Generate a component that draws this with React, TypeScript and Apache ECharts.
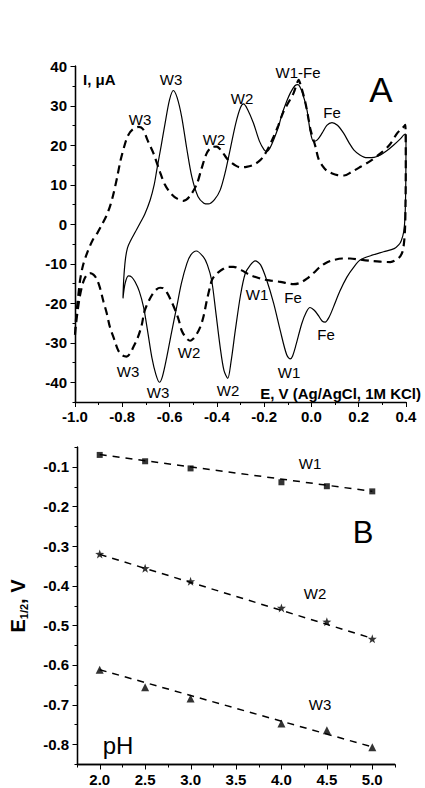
import React, { useEffect, useRef } from "react";
import * as echarts from "echarts";

// Panel A: cyclic voltammograms (E in V, I in µA), points in sweep order
const solidE = [
  -0.797, -0.794, -0.787, -0.778, -0.765, -0.745, -0.725, -0.705, -0.682, -0.665, -0.654, -0.635, -0.619, -0.600, -0.584,
  -0.568, -0.549, -0.527, -0.506, -0.480, -0.455, -0.436, -0.410, -0.386, -0.365, -0.344, -0.320, -0.300, -0.287, -0.270,
  -0.245, -0.220, -0.200, -0.189, -0.175, -0.160, -0.140, -0.125, -0.105, -0.089, -0.070, -0.057, -0.040, -0.019, -0.005,
  0.009, 0.025, 0.045, 0.065, 0.087, 0.110, 0.136, 0.160, 0.179, 0.205, 0.235, 0.265, 0.292, 0.320, 0.348, 0.375, 0.397,
  0.400, 0.399, 0.396, 0.390, 0.380, 0.370, 0.350, 0.305, 0.250, 0.206, 0.180, 0.150, 0.120, 0.093, 0.075, 0.058, 0.045,
  0.029, 0.012, -0.006, -0.022, -0.041, -0.065, -0.080, -0.090, -0.105, -0.132, -0.160, -0.189, -0.215, -0.238, -0.260,
  -0.280, -0.300, -0.322, -0.340, -0.354, -0.370, -0.386, -0.405, -0.422, -0.440, -0.457, -0.487, -0.510, -0.527, -0.550,
  -0.570, -0.592, -0.612, -0.630, -0.643, -0.658, -0.675, -0.693, -0.710, -0.728, -0.746, -0.760, -0.774, -0.788, -0.797,
];
const solidI = [
  -18.5, -14.0, -9.0, -6.0, -4.2, -2.0, 0.2, 2.5, 6.1, 10.0, 13.7, 20.0, 25.5, 31.5, 33.8,
  32.0, 27.2, 19.0, 12.0, 7.0, 5.3, 5.1, 6.2, 8.6, 13.0, 18.8, 25.5, 29.5, 30.4, 29.0,
  25.5, 21.0, 18.8, 18.4, 19.3, 21.3, 24.5, 27.7, 31.0, 33.2, 35.0, 35.3, 33.5, 28.9, 23.5,
  20.9, 21.3, 23.0, 25.0, 25.7, 25.0, 23.0, 20.5, 18.8, 17.5, 16.8, 16.9, 17.5, 18.6, 20.0, 21.5, 22.8,
  22.0, 10.0, 2.0, -2.0, -4.2, -5.2, -6.2, -7.0, -8.0, -9.1, -10.8, -13.4, -17.0, -21.0, -23.5, -24.8, -24.5,
  -23.1, -21.8, -21.1, -22.3, -25.2, -30.5, -33.4, -34.1, -33.0, -26.9, -20.0, -14.2, -10.3, -9.3, -10.5,
  -12.5, -18.0, -26.9, -34.8, -39.0, -37.0, -31.1, -22.0, -14.2, -10.3, -8.3, -6.8, -7.8, -10.0, -15.0,
  -21.0, -27.5, -33.7, -38.5, -40.0, -38.0, -33.7, -27.0, -21.0, -17.0, -14.6, -13.4, -13.1, -15.0, -18.8,
];
const dashE = [
  -1.000, -0.997, -0.993, -0.986, -0.978, -0.966, -0.947, -0.925, -0.905, -0.885, -0.868, -0.852, -0.838, -0.823, -0.807,
  -0.790, -0.775, -0.755, -0.730, -0.712, -0.695, -0.680, -0.668, -0.640, -0.620, -0.598, -0.570, -0.541, -0.515, -0.485,
  -0.465, -0.443, -0.420, -0.401, -0.380, -0.360, -0.344, -0.320, -0.302, -0.275, -0.245, -0.220, -0.203, -0.180, -0.160,
  -0.140, -0.118, -0.095, -0.075, -0.062, -0.054, -0.045, -0.035, -0.025, -0.012, -0.004, 0.017, 0.030, 0.046, 0.065,
  0.088, 0.110, 0.138, 0.170, 0.208, 0.250, 0.292, 0.330, 0.363, 0.385, 0.397,
  0.399, 0.398, 0.396, 0.392, 0.385, 0.370, 0.334, 0.290, 0.250, 0.207, 0.164, 0.130, 0.093, 0.065, 0.037, 0.010, -0.019,
  -0.050, -0.076, -0.100, -0.132, -0.170, -0.203, -0.230, -0.259, -0.295, -0.330, -0.352, -0.372, -0.390, -0.407, -0.420,
  -0.429, -0.443, -0.457, -0.470, -0.485, -0.500, -0.513, -0.530, -0.549, -0.560, -0.570, -0.591, -0.612, -0.628, -0.640,
  -0.655, -0.675, -0.697, -0.708, -0.718, -0.735, -0.753, -0.768, -0.782, -0.800, -0.817, -0.835, -0.852, -0.866, -0.880,
  -0.895, -0.909, -0.922, -0.937, -0.952, -0.965, -0.980, -0.990, -0.996, -1.000,
];
const dashI = [
  -28.0, -25.0, -22.0, -18.0, -14.0, -10.4, -7.0, -4.0, -2.2, 0.0, 2.0, 4.5, 7.5, 11.5, 16.2,
  20.0, 22.5, 24.0, 24.6, 24.0, 21.5, 19.5, 17.9, 13.1, 10.0, 8.0, 6.5, 5.9, 7.0, 10.1,
  14.0, 17.9, 19.5, 19.6, 18.5, 16.8, 15.8, 14.8, 14.4, 14.5, 15.0, 16.0, 17.1, 19.5, 22.1,
  25.0, 28.5, 31.0, 33.2, 35.5, 36.5, 35.0, 33.0, 30.6, 26.5, 23.9, 19.6, 16.5, 14.8, 13.5,
  12.8, 12.4, 12.3, 13.2, 14.5, 16.0, 17.9, 20.0, 23.0, 24.3, 25.1,
  15.0, 5.0, -1.0, -4.5, -7.0, -8.5, -9.6, -9.5, -9.3, -9.0, -8.7, -8.7, -9.1, -9.7, -10.8, -12.3, -13.8,
  -14.9, -15.2, -15.0, -14.6, -14.3, -14.0, -13.5, -12.9, -11.7, -10.8, -10.8, -11.3, -12.0, -12.9, -14.0,
  -15.9, -19.5, -23.5, -26.0, -27.8, -29.0, -29.5, -28.8, -26.9, -24.5, -22.7, -19.7, -17.2, -16.2, -16.1,
  -16.5, -18.0, -20.6, -22.5, -25.6, -28.8, -31.1, -32.8, -33.5, -33.2, -32.0, -29.0, -26.1, -22.5, -19.5,
  -16.0, -13.8, -12.8, -12.4, -13.0, -14.6, -18.4, -22.5, -25.5, -28.0,
];

// Panel B: E1/2 vs pH
const pH = [2.0, 2.5, 3.0, 4.0, 4.5, 5.0];
const w1 = [-0.070, -0.086, -0.104, -0.139, -0.149, -0.162];
const w2 = [-0.320, -0.356, -0.389, -0.456, -0.491, -0.534];
const w3 = [-0.612, -0.656, -0.685, -0.748, -0.765, -0.808];
const fitPH = [2.0, 5.0];
const w1Fit = [-0.069, -0.162];
const w2Fit = [-0.321, -0.533];
const w3Fit = [-0.612, -0.807];

// Axis ranges and tick values
const rangeAx = [-1.0, 0.4];
const rangeAy = [-45, 40];
const rangeBx = [1.75, 5.25];
const rangeBy = [-0.85, -0.05];
const yMajorA = [-40, -30, -20, -10, 0, 10, 20, 30, 40];
const yMinorA = [-45, -35, -25, -15, -5, 5, 15, 25, 35];
const yMajorB = [-0.8, -0.7, -0.6, -0.5, -0.4, -0.3, -0.2, -0.1];
const yMinorB = [-0.85, -0.75, -0.65, -0.55, -0.45, -0.35, -0.25, -0.15, -0.05];
const xMajorB = [2.0, 2.5, 3.0, 3.5, 4.0, 4.5, 5.0];
const xMinorB = [1.75, 2.25, 2.75, 3.25, 3.75, 4.25, 4.75, 5.25];

const FONT = "'Liberation Sans', Arial, Helvetica, sans-serif";

// Plot-area layout (pixels)
const GA = { left: 75, top: 66, width: 331, height: 336 };
const GB = { left: 77, top: 447, width: 318, height: 317 };

type Ann = { t: string; x: number; y: number; s: number; w?: string; a?: string };
const annotations: Ann[] = [
  { t: "I, \u03BCA", x: 83, y: 79, s: 15, w: "bold", a: "left" },
  { t: "A", x: 381, y: 89, s: 35 },
  { t: "W3", x: 171, y: 79, s: 15 },
  { t: "W3", x: 140, y: 119, s: 15 },
  { t: "W2", x: 242, y: 98, s: 15 },
  { t: "W2", x: 214, y: 139, s: 15 },
  { t: "W1-Fe", x: 298, y: 72, s: 15 },
  { t: "Fe", x: 332, y: 112, s: 15 },
  { t: "W1", x: 257, y: 294, s: 15 },
  { t: "Fe", x: 293, y: 297, s: 15 },
  { t: "Fe", x: 326, y: 334, s: 15 },
  { t: "W1", x: 289, y: 372, s: 15 },
  { t: "W3", x: 128, y: 371, s: 15 },
  { t: "W3", x: 158, y: 392, s: 15 },
  { t: "W2", x: 189, y: 352, s: 15 },
  { t: "W2", x: 228, y: 390, s: 15 },
  { t: "E, V (Ag/AgCl, 1M KCl)", x: 421, y: 393, s: 15, w: "bold", a: "right" },
  { t: "W1", x: 310, y: 463, s: 15 },
  { t: "B", x: 363, y: 532, s: 31 },
  { t: "W2", x: 315, y: 593, s: 15 },
  { t: "W3", x: 320, y: 704, s: 15 },
  { t: "pH", x: 118, y: 745, s: 24 },
];

const STAR =
  "path://M0,-10 L2.35,-3.24 L9.51,-3.09 L3.8,1.24 L5.88,8.09 L0,4 L-5.88,8.09 L-3.8,1.24 L-9.51,-3.09 L-2.35,-3.24 Z";

const zip = (a: number[], b: number[]) => a.map((v, i) => [v, b[i]]);
const onStep = (v: number, step: number) => Math.abs(v / step - Math.round(v / step)) < 1e-6;

const black = "#000000";
const labelStyle = { color: black, fontWeight: "bold" as const, fontSize: 15, fontFamily: FONT };

type G = { left: number; top: number; width: number; height: number };
const seg = (x1: number, y1: number, x2: number, y2: number, w: number) => ({
  type: "line",
  z: 50,
  silent: true,
  shape: { x1, y1, x2, y2 },
  style: { stroke: black, lineWidth: w },
});
const crisp = (v: number) => Math.round(v) + 0.5;
const yPix = (g: G, r: number[], v: number) => g.top + ((r[1] - v) / (r[1] - r[0])) * g.height;
const xPix = (g: G, r: number[], v: number) => g.left + ((v - r[0]) / (r[1] - r[0])) * g.width;

function yAxisShapes(g: G, r: number[], majors: number[], minors: number[]) {
  const X = crisp(g.left);
  const out: any[] = [seg(X, g.top, X, g.top + g.height + 0.5, 1.3)];
  majors.forEach((v) => { const Y = crisp(yPix(g, r, v)); out.push(seg(X - 5, Y, X, Y, 1)); });
  minors.forEach((v) => { const Y = crisp(yPix(g, r, v)); out.push(seg(X - 3, Y, X, Y, 1)); });
  return out;
}
function xAxisShapes(g: G, r: number[], majors: number[], minors: number[]) {
  const Y = crisp(g.top + g.height);
  const out: any[] = [seg(g.left, Y, g.left + g.width, Y, 1.3)];
  majors.forEach((v) => { const X = crisp(xPix(g, r, v)); out.push(seg(X, Y, X, Y + 5, 1)); });
  minors.forEach((v) => { const X = crisp(xPix(g, r, v)); out.push(seg(X, Y, X, Y + 3, 1)); });
  return out;
}

export default function App() {
  const ref = useRef<HTMLDivElement>(null);
  useEffect(() => {
    if (!ref.current) return;
    const chart = echarts.init(ref.current, undefined, { renderer: "svg" });

    const textGraphic: any[] = [
      ...annotations.map((a) => ({
        type: "text",
        x: a.x,
        y: a.y,
        z: 10,
        style: {
          text: a.t,
          fill: black,
          font: `${a.w || "normal"} ${a.s}px ${FONT}`,
          textAlign: a.a || "center",
          textVerticalAlign: "middle",
        },
      })),
      {
        type: "text",
        x: 18,
        y: 606,
        rotation: Math.PI / 2,
        z: 10,
        style: {
          text: "{b|E}{s|1/2}{b|, V}",
          fill: black,
          textAlign: "center",
          textVerticalAlign: "middle",
          rich: {
            b: { fontSize: 20, fontWeight: "bold", fontFamily: FONT, lineHeight: 22, verticalAlign: "middle" },
            s: { fontSize: 11, fontWeight: "bold", fontFamily: FONT, lineHeight: 22, verticalAlign: "bottom", padding: [7, 0, 0, 0] },
          },
        },
      },
    ];

    const axisGraphic: any[] = [
      ...yAxisShapes(GA, rangeAy, yMajorA, yMinorA),
      ...yAxisShapes(GB, rangeBy, yMajorB, yMinorB),
      ...xAxisShapes(GB, rangeBx, xMajorB, xMinorB),
    ];

    const valueAxisLine = { show: true, onZero: false, lineStyle: { color: black, width: 1.3 } };

    const option: any = {
      animation: false,
      backgroundColor: "#fff",
      grid: [GA, GB],
      xAxis: [
        {
          gridIndex: 0, type: "value", min: rangeAx[0], max: rangeAx[1], interval: 0.2,
          axisLine: valueAxisLine,
          axisTick: { show: true, length: 5, lineStyle: { color: black, width: 1 } },
          minorTick: { show: true, splitNumber: 2, length: 3, lineStyle: { color: black, width: 1 } },
          splitLine: { show: false },
          axisLabel: { ...labelStyle, margin: 7, formatter: (v: number) => v.toFixed(1) },
        },
        {
          gridIndex: 1, type: "value", min: rangeBx[0], max: rangeBx[1], interval: 0.25,
          axisLine: valueAxisLine,
          axisTick: { show: false },
          splitLine: { show: false },
          axisLabel: {
            ...labelStyle, margin: 8,
            formatter: (v: number) => (onStep(v, 0.5) ? v.toFixed(1) : ""),
          },
        },
      ],
      yAxis: [
        {
          gridIndex: 0, type: "value", min: rangeAy[0], max: rangeAy[1], interval: 5,
          axisLine: valueAxisLine,
          axisTick: { show: false },
          splitLine: { show: false },
          axisLabel: {
            ...labelStyle, margin: 8,
            formatter: (v: number) => (onStep(v, 10) ? String(Math.round(v)) : ""),
          },
        },
        {
          gridIndex: 1, type: "value", min: rangeBy[0], max: rangeBy[1], interval: 0.05,
          axisLine: valueAxisLine,
          axisTick: { show: false },
          splitLine: { show: false },
          axisLabel: {
            ...labelStyle, margin: 8,
            formatter: (v: number) => (onStep(v, 0.1) ? v.toFixed(1) : ""),
          },
        },
      ],
      series: [
        {
          type: "line", xAxisIndex: 0, yAxisIndex: 0, data: zip(solidE, solidI),
          symbol: "none", smooth: 0.3, lineStyle: { color: black, width: 1.2 },
        },
        {
          type: "line", xAxisIndex: 0, yAxisIndex: 0, data: zip(dashE, dashI),
          symbol: "none", smooth: 0.3, lineStyle: { color: black, width: 2.2, type: [8, 5] },
        },
        {
          type: "line", xAxisIndex: 1, yAxisIndex: 1, data: zip(fitPH, w1Fit),
          symbol: "none", lineStyle: { color: black, width: 1.5, type: [7, 6] },
        },
        {
          type: "line", xAxisIndex: 1, yAxisIndex: 1, data: zip(fitPH, w2Fit),
          symbol: "none", lineStyle: { color: black, width: 1.5, type: [7, 6] },
        },
        {
          type: "line", xAxisIndex: 1, yAxisIndex: 1, data: zip(fitPH, w3Fit),
          symbol: "none", lineStyle: { color: black, width: 1.5, type: [7, 6] },
        },
        {
          type: "scatter", xAxisIndex: 1, yAxisIndex: 1, data: zip(pH, w1),
          symbol: "rect", symbolSize: 6, itemStyle: { color: black },
        },
        {
          type: "scatter", xAxisIndex: 1, yAxisIndex: 1, data: zip(pH, w2),
          symbol: STAR, symbolSize: 9, itemStyle: { color: black },
        },
        {
          type: "scatter", xAxisIndex: 1, yAxisIndex: 1, data: zip(pH, w3),
          symbol: "triangle", symbolSize: 8, itemStyle: { color: black },
        },
      ],
      graphic: [...textGraphic, ...axisGraphic],
    };
    chart.setOption(option);
    return () => chart.dispose();
  }, []);
  return (
    <div
      ref={ref}
      style={{ position: "fixed", left: 0, top: 0, width: 425, height: 788, background: "#fff" }}
    />
  );
}
